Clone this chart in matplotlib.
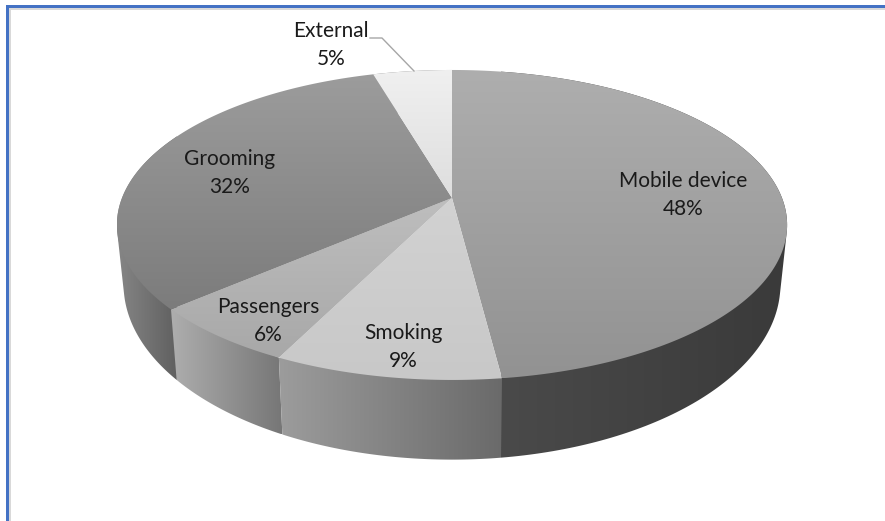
import numpy as np
import matplotlib
matplotlib.use("Agg")
import matplotlib.pyplot as plt
from matplotlib.patches import Polygon, Rectangle

categories = ["Mobile device", "Smoking", "Passengers", "Grooming", "External"]
shares = [48.0, 9.3, 6.3, 31.9, 4.5]
percent_labels = ["48%", "9%", "6%", "32%", "5%"]

top_colors = [("#aeaeae", "#929292"), ("#d2d2d2", "#c8c8c8"), ("#bebebe", "#a8a8a8"),
              ("#9c9c9c", "#7c7c7c"), ("#f0f0f0", "#dedede")]
wall_colors = [("#4a4a4a", "#3a3a3a"), ("#9c9c9c", "#6a6a6a"), ("#aeaeae", "#767676"),
               ("#868686", "#606060"), ("#808080", "#808080")]
label_xy = [(683, 195), (403, 347), (268, 321), (230, 173), (331, 45)]
wall_order = [0, 3, 4, 2, 1]

W, H = 885, 521
APEX = (452.0, 198.0)
A, B, K = 330.0, 150.3, 0.174


def rim(theta):
    u, v = np.sin(theta), np.cos(theta)
    d = 1 + K * v
    return APEX[0] + A * u / d, APEX[1] - B * v / d


def base(theta):
    x, y = rim(theta)
    return APEX[0] + 0.98 * (x - APEX[0]), APEX[1] + 1.13 * (y - APEX[1]) + 56.0


def convex_hull(points):
    pts = sorted(map(tuple, points))
    def half(seq):
        out = []
        for p in seq:
            while len(out) > 1 and ((out[-1][0] - out[-2][0]) * (p[1] - out[-2][1])
                                    - (out[-1][1] - out[-2][1]) * (p[0] - out[-2][0])) <= 0:
                out.pop()
            out.append(p)
        return out[:-1]
    return np.array(half(pts) + half(pts[::-1]))


def gradient(ax, verts, c0, c1, horizontal, x_range=None):
    verts = np.asarray(verts)
    x0, y0 = verts.min(axis=0)
    x1, y1 = verts.max(axis=0)
    if x_range is not None:
        x0, x1 = x_range
    c0 = np.array(matplotlib.colors.to_rgb(c0))
    c1 = np.array(matplotlib.colors.to_rgb(c1))
    t = np.linspace(0, 1, 256)[:, None]
    img = c0 * (1 - t) + c1 * t
    img = img[None, :, :] if horizontal else img[:, None, :]
    im = ax.imshow(img, extent=(x0, x1, y1, y0), aspect="auto", interpolation="bilinear", zorder=2)
    patch = Polygon(verts, closed=True, transform=ax.transData, fc="none", ec="none")
    ax.add_patch(patch)
    im.set_clip_path(patch)


fig = plt.figure(figsize=(W / 100, H / 100), dpi=100, facecolor="white")
ax = fig.add_axes([0, 0, 1, 1])
ax.set_xlim(0, W)
ax.set_ylim(H, 0)
ax.axis("off")

edges = np.concatenate([[0], np.cumsum(shares)]) / 100 * 2 * np.pi

# side walls first: the top faces hide whatever faces backwards
for i in wall_order:
    th = np.linspace(edges[i], edges[i + 1], 200)
    rx, ry = rim(th)
    bx, by = base(th)
    verts = convex_hull(np.column_stack([np.r_[rx, bx], np.r_[ry, by]]))
    front = np.cos(th) < 0.1
    if front.any():
        xr = (min(rx[front].min(), bx[front].min()), max(rx[front].max(), bx[front].max()))
    else:
        xr = None
    gradient(ax, verts, *wall_colors[i], horizontal=True, x_range=xr)

for i in range(len(shares)):
    th = np.linspace(edges[i], edges[i + 1], 200)
    rx, ry = rim(th)
    verts = np.column_stack([np.r_[APEX[0], rx], np.r_[APEX[1], ry]])
    gradient(ax, verts, *top_colors[i], horizontal=False)

# leader line of the External label
ax.plot([370, 382, 414], [38, 38, 71], color="#a6a6a6", lw=1.0, zorder=3)

for name, pct, (x, y) in zip(categories, percent_labels, label_xy):
    ax.text(x, y, f"{name}\n{pct}", ha="center", va="center", family="Lato", fontsize=15,
            color="#1a1a1a", linespacing=1.55, zorder=4)

# picture frame: blue rule with a pale gray rule inside, top and left only
ax.add_patch(Rectangle((6, 5), W - 6, 3, fc="#4472c4", ec="none", zorder=5))
ax.add_patch(Rectangle((6, 5), 3, H - 5, fc="#4472c4", ec="none", zorder=5))
ax.add_patch(Rectangle((9, 8), W - 9, 2, fc="#d9d9d9", ec="none", zorder=5))
ax.add_patch(Rectangle((9, 8), 2, H - 8, fc="#d9d9d9", ec="none", zorder=5))

ax.set_xlim(0, W)
ax.set_ylim(H, 0)
fig.savefig("out.png", dpi=100, facecolor="white")
